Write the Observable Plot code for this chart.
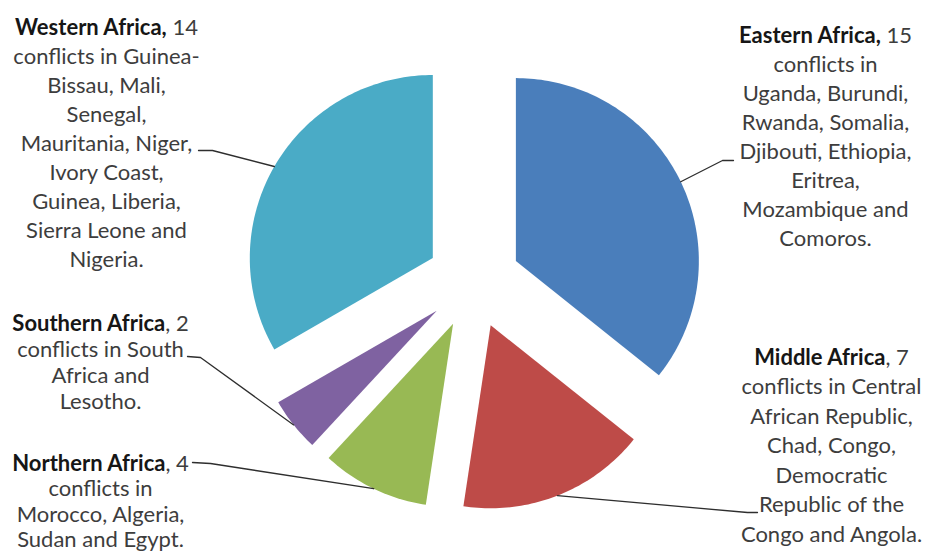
<!DOCTYPE html>
<html><head><meta charset="utf-8">
<script src="https://cdn.jsdelivr.net/npm/d3@7"></script>
<script src="https://cdn.jsdelivr.net/npm/@observablehq/plot@0.6"></script>
<style>
body{margin:0;background:#fff;}
#chart svg{display:block;}
</style></head><body><div id="chart"></div>
<script>
// ---- data ----
const regions = ["Eastern Africa", "Middle Africa", "Northern Africa", "Southern Africa", "Western Africa"];
const conflicts = [15, 7, 4, 2, 14];
const detailLines = [
  ["conflicts in", "Uganda, Burundi,", "Rwanda, Somalia,", "Djibouti, Ethiopia,", "Eritrea,", "Mozambique and", "Comoros."],
  ["conflicts in Central", "African Republic,", "Chad, Congo,", "Democratic", "Republic of the", "Congo and Angola."],
  ["conflicts in", "Morocco, Algeria,", "Sudan and Egypt."],
  ["conflicts in South", "Africa and", "Lesotho."],
  ["conflicts in Guinea-", "Bissau, Mali,", "Senegal,", "Mauritania, Niger,", "Ivory Coast,", "Guinea, Liberia,", "Sierra Leone and", "Nigeria."]
];
const colors = ["#4a7ebb", "#be4b48", "#98b954", "#7f62a1", "#4aabc6"];

// ---- layout ----
const W = 926, H = 557;
const layout = {
  cx: 473, cy: 281, r: 183, explode: 47, fontSize: 22,
  labels: {
    "Eastern Africa":  {x: 825, y: 33,  lh: 29,   elbow: [722, 160], end: [733, 160], boldComma: true},
    "Middle Africa":   {x: 831, y: 355, lh: 29.5, elbow: [747, 512], end: [757, 512], boldComma: false},
    "Northern Africa": {x: 100, y: 462, lh: 25.5, elbow: [210, 463], end: [192, 462], boldComma: false},
    "Southern Africa": {x: 100, y: 322, lh: 26,   elbow: [200, 357], end: [187, 356], boldComma: false},
    "Western Africa":  {x: 106, y: 25,  lh: 29,   elbow: [212, 150], end: [198, 150], boldComma: true}
  }
};

const {cx, cy, r, explode} = layout;
const arcs = d3.pie().sort(null).value(d => d.value)(regions.map((name, i) => ({name, value: conflicts[i]})));

const slicePts = [], leaderPts = [];
arcs.forEach(p => {
  const name = p.data.name;
  const m = (p.startAngle + p.endAngle) / 2;
  const ox = explode * Math.sin(m), oy = -explode * Math.cos(m);
  slicePts.push({name, x: ox, y: oy});
  const n = Math.max(8, Math.ceil((p.endAngle - p.startAngle) / 0.02));
  for (let k = 0; k <= n; k++) {
    const t = p.startAngle + (p.endAngle - p.startAngle) * k / n;
    slicePts.push({name, x: ox + r * Math.sin(t), y: oy - r * Math.cos(t)});
  }
  const L = layout.labels[name];
  leaderPts.push({name, x: (explode + r) * Math.sin(m), y: -(explode + r) * Math.cos(m)});
  leaderPts.push({name, x: L.elbow[0] - cx, y: L.elbow[1] - cy});
  leaderPts.push({name, x: L.end[0] - cx, y: L.end[1] - cy});
});

const textMarks = regions.map((name, i) => {
  const L = layout.labels[name];
  const lines = [`${name}, ${conflicts[i]}`, ...detailLines[i]];
  const yMid = L.y + (lines.length - 1) / 2 * L.lh;
  return Plot.text([{name, text: lines.join("\n")}], {
    x: () => L.x - cx, y: () => yMid - cy, text: "text",
    lineAnchor: "middle", textAnchor: "middle",
    lineHeight: L.lh / layout.fontSize, fontSize: layout.fontSize,
    fontFamily: "Lato", fill: "#3d3d3d"
  });
});

const chart = Plot.plot({
  width: W, height: H, margin: 0,
  x: {domain: [-cx, W - cx], range: [0, W], axis: null},
  y: {domain: [-cy, H - cy], range: [0, H], axis: null},
  color: {domain: regions, range: colors},
  style: {background: "#fff", fontFamily: "Lato"},
  marks: [
    Plot.line(slicePts, {x: "x", y: "y", z: "name", fill: "name", stroke: null, curve: "linear-closed"}),
    Plot.line(leaderPts, {x: "x", y: "y", z: "name", stroke: "#2e2e2e", strokeWidth: 1.3}),
    ...textMarks
  ]
});
document.getElementById("chart").appendChild(chart);

// bold region names on the first line of each label
d3.select(chart).selectAll("text").each(function() {
  const tspans = this.querySelectorAll("tspan");
  if (!tspans.length) return;
  const first = tspans[0];
  const content = first.textContent;
  const name = regions.find(n => content.startsWith(n));
  if (!name) return;
  const boldPart = layout.labels[name].boldComma ? name + "," : name;
  const rest = content.slice(boldPart.length);
  first.textContent = "";
  const b = document.createElementNS("http://www.w3.org/2000/svg", "tspan");
  b.setAttribute("font-weight", "bold");
  b.setAttribute("fill", "#161616");
  b.textContent = boldPart;
  first.appendChild(b);
  first.appendChild(document.createTextNode(rest));
});
</script>
</body></html>
